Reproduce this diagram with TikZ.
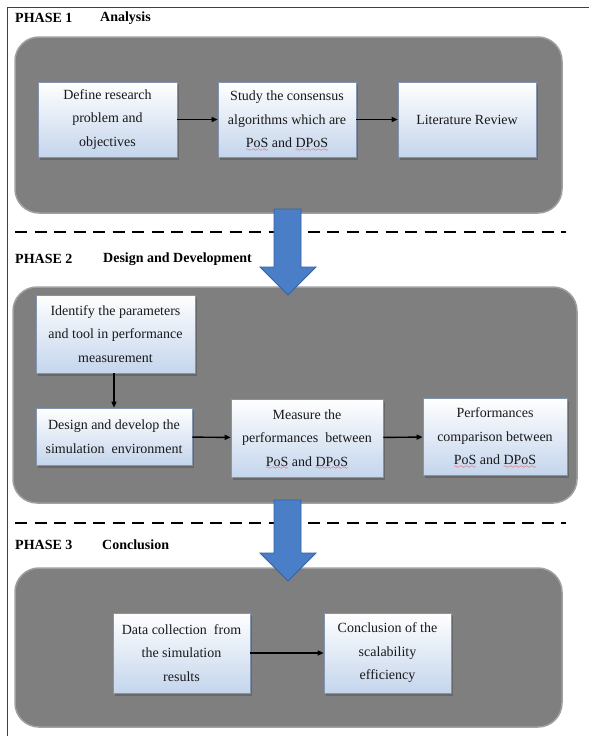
\documentclass[tikz,border=0pt]{standalone}
\usepackage{fontspec}
\setmainfont{Liberation Serif}
\usetikzlibrary{arrows.meta,shadows}

\definecolor{panel}{RGB}{127,127,127}
\definecolor{panelrim}{RGB}{160,160,160}
\definecolor{boxbot}{RGB}{196,213,236}
\definecolor{boxrim}{RGB}{130,148,175}
\definecolor{bigblue}{RGB}{74,126,198}
\definecolor{bigblueedge}{RGB}{52,98,165}
\definecolor{txt}{RGB}{25,25,25}

\font\wavyfont=lasy6
\newsavebox\wavebox
\newcommand\redwave[1]{\sbox\wavebox{#1}\leavevmode\rlap{\smash{\color{red}\lower3.5pt\hbox to \wd\wavebox{\xleaders\hbox{\wavyfont\char58}\hfil}}}\usebox\wavebox}
\newcommand\pos{\redwave{PoS}}
\newcommand\dpos{\redwave{DPoS}}

\tikzset{
  panelbox/.style={fill=panel, draw=panelrim, line width=1.5pt, rounded corners=24pt},
  stepbox/.style={draw=boxrim, line width=0.6pt, top color=white, bottom color=boxbot,
    align=center, text=txt, inner sep=2pt, font=\fontsize{14}{23.5}\selectfont,
    drop shadow={shadow xshift=2pt, shadow yshift=-2.5pt, fill=black!60, opacity=0.9}},
  flow/.style={-{Triangle[length=6pt,width=5pt]}, line width=1.4pt, black},
  phaselbl/.style={anchor=west, font=\fontsize{14}{16}\selectfont\bfseries, inner sep=0pt, text=black},
  divider/.style={line width=2.3pt, dash pattern=on 12pt off 7.5pt},
  bigarrow/.style={fill=bigblue, draw=bigblueedge, line width=0.8pt},
}

\begin{document}
\begin{tikzpicture}[x=1pt, y=-1pt]
\useasboundingbox (0,0) rectangle (589,736);
\fill[white] (0,0) rectangle (589,736);

% outer frame
\draw[black!75, line width=1pt] (7,736) -- (7,7) -- (589,7);

% phase labels
\node[phaselbl] (p1) at (15,18) {PHASE 1};
\node[phaselbl] (t1) at (100,18) {Analysis};
\node[phaselbl] (p2) at (15,259) {PHASE 2};
\node[phaselbl] (t2) at (103,259) {Design and Development};
\node[phaselbl] (p3) at (15,545) {PHASE 3};
\node[phaselbl] (t3) at (102,545) {Conclusion};

% dividers
\draw[divider] (15,232) -- (566,232);
\draw[divider] (15,523) -- (566,523);

% panels
\draw[panelbox] (15,37) rectangle (562,213);
\draw[panelbox] (13,287) rectangle (577,503);
\draw[panelbox] (15,568) rectangle (562,727);

% block arrows
\draw[bigarrow] (274,209) -- (301,209) -- (301,267) -- (316,267) -- (288,295) -- (260,267) -- (274,267) -- cycle;
\draw[bigarrow] (274,500) -- (301,500) -- (301,553) -- (316,553) -- (288,581) -- (260,553) -- (274,553) -- cycle;

% phase 1
\node[stepbox, minimum width=139pt, minimum height=75pt] (a1) at (107.5,119.5) {Define research\\problem and\\objectives};
\node[stepbox, minimum width=138pt, minimum height=75pt] (a2) at (287,119.5) {Study the consensus\\algorithms which are\\\pos{} and \dpos};
\node[stepbox, minimum width=138pt, minimum height=75pt] (a3) at (467,119.5) {Literature Review};
\draw[flow] (a1) -- (a2);
\draw[flow] (a2) -- (a3);

% phase 2
\node[stepbox, minimum width=159pt, minimum height=78pt] (b1) at (115.5,334) {Identify the parameters\\and tool in performance\\measurement};
\node[stepbox, minimum width=156pt, minimum height=57pt] (b2) at (114,436.5) {Design and develop the\\simulation\ \ environment};
\node[stepbox, minimum width=152pt, minimum height=78pt] (b3) at (307,438) {Measure the\\performances\ \ between\\\pos{} and \dpos};
\node[stepbox, minimum width=144pt, minimum height=77pt] (b4) at (495,436.5) {Performances\\comparison between\\\pos{} and \dpos};
\draw[flow] (b1.south -| b2.north) -- (b2.north);
\draw[flow] (b2) -- (b3);
\draw[flow] (b3) -- (b4);

% phase 3
\node[stepbox, minimum width=137pt, minimum height=80pt] (c1) at (181.5,653) {Data collection\ \ from\\the simulation\\results};
\node[stepbox, minimum width=127pt, minimum height=80pt] (c2) at (387.5,653) {Conclusion of the\\scalability\\efficiency};
\draw[flow] (c1) -- (c2);
\end{tikzpicture}
\end{document}
